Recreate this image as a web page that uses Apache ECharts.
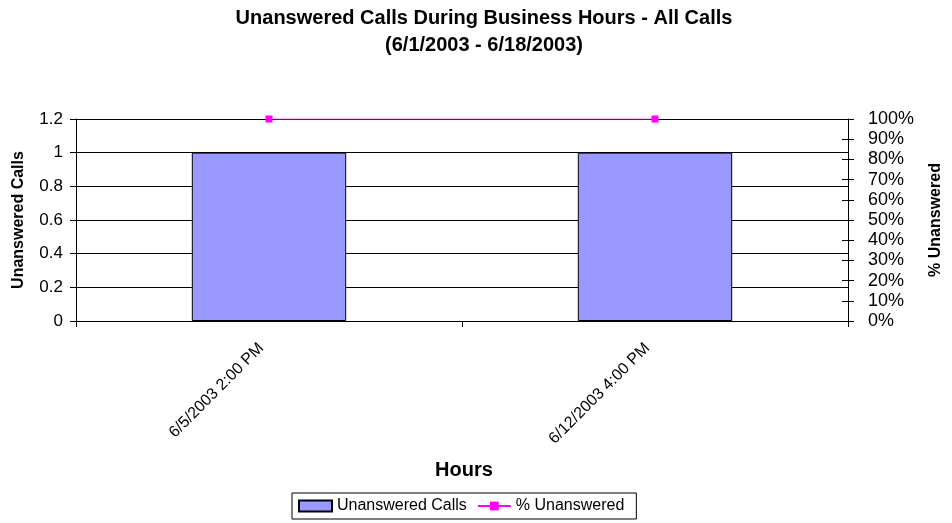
<!DOCTYPE html>
<html>
<head>
<meta charset="utf-8">
<script src="https://cdn.jsdelivr.net/npm/echarts@6/dist/echarts.min.js"></script>
<style>
  html, body { margin: 0; padding: 0; background: #fff; }
  #chart { width: 952px; height: 523px; }
</style>
</head>
<body>
<div id="chart"></div>
<script>
// Hourly buckets that had unanswered calls
const hours = ['6/5/2003 2:00 PM', '6/12/2003 4:00 PM'];
// Number of unanswered calls in each bucket
const unansweredCalls = [1, 1];
// Share of calls in each bucket that went unanswered (0..1)
const pctUnanswered = [1, 1];

const FONT = '"Liberation Sans", Arial, sans-serif';
const chart = echarts.init(document.getElementById('chart'), null, { renderer: 'canvas' });

chart.setOption({
  backgroundColor: '#ffffff',
  animation: false,
  textStyle: { fontFamily: FONT, color: '#000' },
  graphic: [
    {
      type: 'text', x: 484, y: 18,
      style: {
        text: 'Unanswered Calls During Business Hours - All Calls',
        fontFamily: FONT, fontSize: 20, fontWeight: 'bold', fill: '#000',
        align: 'center', verticalAlign: 'middle'
      }
    },
    {
      type: 'text', x: 484, y: 45,
      style: {
        text: '(6/1/2003 - 6/18/2003)',
        fontFamily: FONT, fontSize: 20, fontWeight: 'bold', fill: '#000',
        align: 'center', verticalAlign: 'middle'
      }
    },
    {
      type: 'text', x: 464, y: 470,
      style: {
        text: 'Hours',
        fontFamily: FONT, fontSize: 20, fontWeight: 'bold', fill: '#000',
        align: 'center', verticalAlign: 'middle'
      }
    }
  ],
  grid: { left: 76, right: 99, top: 119, bottom: 202, containLabel: false },
  legend: {
    left: 292, top: 493,
    padding: [5, 12, 5, 6],
    itemGap: 10,
    itemWidth: 33, itemHeight: 11,
    borderColor: '#000', borderWidth: 1, borderRadius: 0,
    textStyle: { fontFamily: FONT, fontSize: 16, color: '#000' },
    data: [
      { name: 'Unanswered Calls', icon: 'rect' },
      { name: '% Unanswered' }
    ]
  },
  xAxis: {
    type: 'category',
    data: hours,
    boundaryGap: true,
    axisLine: { lineStyle: { color: '#000', width: 1 } },
    axisTick: { show: true, length: 6, lineStyle: { color: '#000' } },
    axisLabel: {
      rotate: 45, margin: 17, padding: [0, 11, 0, 0], color: '#000',
      fontFamily: FONT, fontSize: 16
    },
    splitLine: { show: false }
  },
  yAxis: [
    {
      type: 'value', min: 0, max: 1.2, interval: 0.2,
      name: 'Unanswered Calls', nameLocation: 'middle', nameRotate: 90, nameGap: 49,
      nameTextStyle: { fontFamily: FONT, fontSize: 16, fontWeight: 'bold', color: '#000' },
      axisLine: { show: true, lineStyle: { color: '#000' } },
      axisTick: { show: true, length: 6, lineStyle: { color: '#000' } },
      axisLabel: { color: '#000', fontFamily: FONT, fontSize: 17, margin: 13 },
      splitLine: { show: true, lineStyle: { color: '#000', width: 1 } }
    },
    {
      type: 'value', min: 0, max: 1, interval: 0.1, position: 'right',
      name: '% Unanswered', nameLocation: 'middle', nameRotate: 90, nameGap: 80,
      nameTextStyle: { fontFamily: FONT, fontSize: 16, fontWeight: 'bold', color: '#000' },
      axisLine: { show: true, lineStyle: { color: '#000' } },
      axisTick: { show: true, length: 6, lineStyle: { color: '#000' } },
      axisLabel: {
        color: '#000', fontFamily: FONT, fontSize: 18, margin: 20,
        formatter: v => Math.round(v * 100) + '%'
      },
      splitLine: { show: false }
    },
    {
      // inner half of the crossing tick marks on the percentage axis
      type: 'value', min: 0, max: 1, interval: 0.1, position: 'right', offset: 0,
      axisLine: { show: false },
      axisTick: { show: true, inside: true, length: 6, lineStyle: { color: '#000' } },
      axisLabel: { show: false },
      splitLine: { show: false }
    }
  ],
  series: [
    {
      name: 'Unanswered Calls',
      type: 'bar',
      yAxisIndex: 0,
      data: unansweredCalls,
      barWidth: '40%',
      itemStyle: { color: '#9999FF', borderColor: '#000', borderWidth: 1 }
    },
    {
      name: '% Unanswered',
      type: 'line',
      yAxisIndex: 1,
      data: pctUnanswered,
      symbol: 'rect', symbolSize: 7,
      lineStyle: { color: '#FF00FF', width: 1 },
      itemStyle: { color: '#FF00FF' }
    }
  ]
});
</script>
</body>
</html>
